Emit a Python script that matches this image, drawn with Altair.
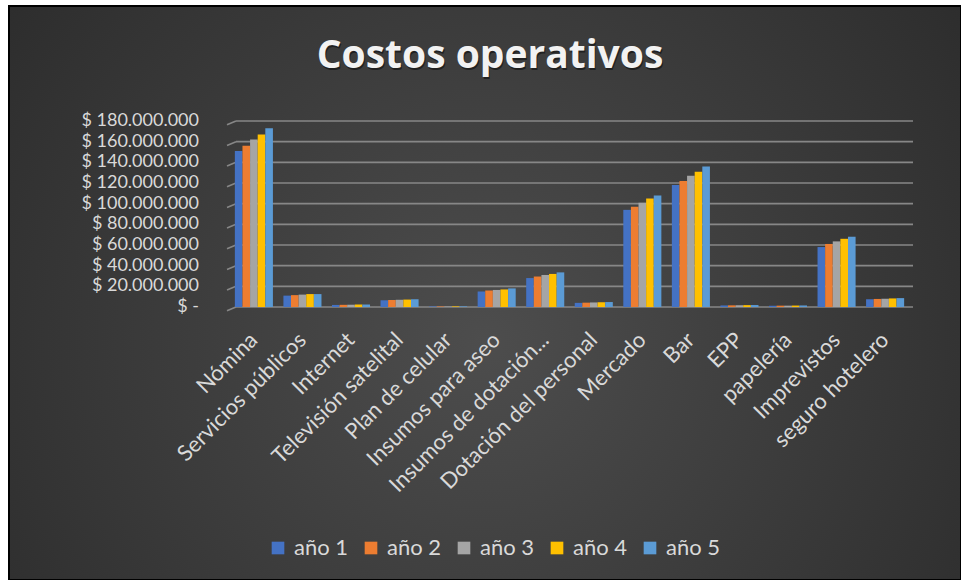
import altair as alt
import pandas as pd

# Categorías de costo (eje X) y años (series)
categorias = [
    "Nómina", "Servicios públicos", "Internet", "Televisión satelital",
    "Plan de celular", "Insumos para aseo", "Insumos de dotación...",
    "Dotación del personal", "Mercado", "Bar", "EPP", "papelería",
    "Imprevistos", "seguro hotelero",
]
series = ["año 1", "año 2", "año 3", "año 4", "año 5"]

# Costos por año, en millones de pesos
anio_1 = [151, 11.0, 2.0, 6.5, 0.5, 15.0, 28.0, 4.0, 94, 118, 1.5, 1.2, 58.0, 7.5]
anio_2 = [156, 11.5, 2.1, 6.8, 0.5, 16.0, 29.5, 4.2, 97, 122, 1.6, 1.3, 61.0, 7.8]
anio_3 = [162, 12.0, 2.2, 7.0, 0.5, 16.5, 31.0, 4.4, 101, 127, 1.7, 1.3, 63.5, 8.0]
anio_4 = [167, 12.5, 2.3, 7.2, 0.6, 17.0, 32.0, 4.6, 105, 131, 1.8, 1.4, 66.0, 8.3]
anio_5 = [173, 12.5, 2.4, 7.5, 0.6, 18.0, 33.5, 4.8, 108, 136, 1.9, 1.5, 68.0, 8.6]

colores = ["#4472C4", "#ED7D31", "#A5A5A5", "#FFC000", "#5B9BD5"]
marcas_eje = [0, 20, 40, 60, 80, 100, 120, 140, 160, 180]  # millones

FUENTE = "Lato"
GRIS_TEXTO = "#d9d9d9"

filas = []
for serie, valores in zip(series, [anio_1, anio_2, anio_3, anio_4, anio_5]):
    for cat, v in zip(categorias, valores):
        filas.append({"categoria": cat, "serie": serie, "valor": v * 1_000_000})
datos = pd.DataFrame(filas)
ticks = pd.DataFrame({"v": [m * 1_000_000 for m in marcas_eje]})

escala_y = alt.Scale(domain=[0, 180_000_000], nice=False, zero=True)

# Fondo oscuro con degradado radial y marco negro
fondo = alt.Chart(pd.DataFrame({"k": [0]})).mark_rect(
    fill=alt.RadialGradient(
        gradient="radial",
        stops=[alt.GradientStop(offset=0, color="#4d4d4d"),
               alt.GradientStop(offset=1, color="#262626")],
        x1=0.5, y1=0.55, x2=0.5, y2=0.55, r1=0, r2=0.75,
    ),
    stroke="#000000", strokeWidth=2,
).encode(
    x=alt.value(-221), x2=alt.value(731), y=alt.value(-115), y2=alt.value(459)
)

# Líneas de cuadrícula con el pequeño tramo inclinado de la pared lateral
rejilla = alt.Chart(ticks).mark_rule(color="#878787", strokeWidth=1.6).encode(
    x=alt.value(6), x2=alt.value(683),
    y=alt.Y("v:Q", scale=escala_y, axis=None),
)
inclinada = alt.Chart(ticks).transform_calculate(
    v_bajo="datum.v - 3600000"
).mark_rule(color="#878787", strokeWidth=1.6).encode(
    x=alt.value(-3), x2=alt.value(6),
    y=alt.Y("v_bajo:Q", scale=escala_y, axis=None),
    y2="v:Q",
)

# Etiquetas del eje Y: "$ 180.000.000" ... "$ -"
etiquetas_y = alt.Chart(ticks).transform_calculate(
    etiqueta="datum.v == 0 ? '$ -' : '$ ' + replace(format(datum.v, ','), regexp(',', 'g'), '.')"
).mark_text(
    align="right", baseline="middle", font=FUENTE, fontSize=18, color=GRIS_TEXTO
).encode(
    x=alt.value(-31), y=alt.Y("v:Q", scale=escala_y, axis=None), text="etiqueta:N"
)

# Barras agrupadas por categoría
barras = alt.Chart(datos).mark_bar(stroke=None).encode(
    x=alt.X(
        "categoria:N", sort=categorias, title=None,
        scale=alt.Scale(paddingInner=0.216, paddingOuter=0.1),
        axis=alt.Axis(
            labelAngle=-45, labelAlign="right", labelBaseline="middle",
            labelFont=FUENTE, labelFontSize=22, labelColor=GRIS_TEXTO,
            labelPadding=29, labelLimit=300, domain=False, ticks=False,
            zindex=1,
        ),
    ),
    xOffset=alt.XOffset("serie:N", sort=series,
                        scale=alt.Scale(paddingInner=0, paddingOuter=0)),
    y=alt.Y("valor:Q", scale=escala_y, axis=None),
    color=alt.Color(
        "serie:N", sort=series,
        scale=alt.Scale(domain=series, range=colores),
        legend=alt.Legend(
            title=None, orient="none", legendX=37, legendY=416,
            direction="horizontal", symbolType="square", symbolSize=160,
            symbolStrokeWidth=0, labelFont=FUENTE, labelFontSize=22,
            labelColor=GRIS_TEXTO, labelOffset=5, columnPadding=11,
        ),
    ),
)

# Título con sombra
texto_titulo = pd.DataFrame({"t": ["Costos operativos"]})
titulo_sombra = alt.Chart(texto_titulo).mark_text(
    align="center", baseline="alphabetic", font="Open Sans", fontSize=39,
    fontWeight="bold", color="#000000", opacity=0.45,
).encode(x=alt.value(261), y=alt.value(-51), text="t:N")
titulo = alt.Chart(texto_titulo).mark_text(
    align="center", baseline="alphabetic", font="Open Sans", fontSize=39,
    fontWeight="bold", color="#f2f2f2",
).encode(x=alt.value(260), y=alt.value(-53), text="t:N")

chart = alt.layer(
    fondo, rejilla, inclinada, etiquetas_y, barras, titulo_sombra, titulo
).properties(
    width=679, height=186,
    autosize=alt.AutoSizeParams(type="none"),
    padding={"left": 230, "top": 121, "right": 52, "bottom": 273},
).configure(
    background="#ffffff",
).configure_view(
    stroke=None,
)

chart.save("out.html", embed_options={"renderer": "svg", "actions": False})
